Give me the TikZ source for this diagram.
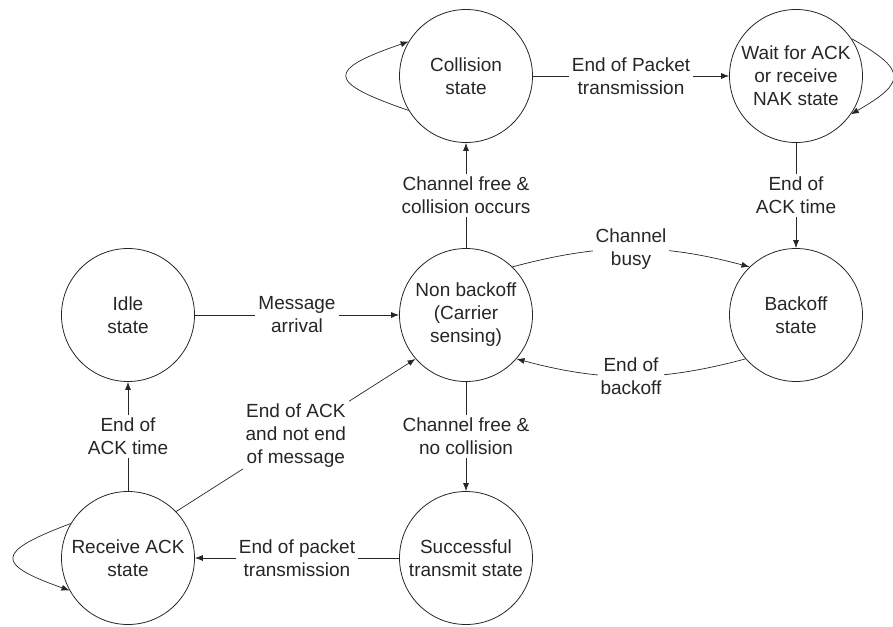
\documentclass[tikz,border=0pt]{standalone}
\usepackage{fontspec}
\setmainfont{Liberation Sans}
\usetikzlibrary{arrows.meta}
\begin{document}
\begin{tikzpicture}[x=1pt,y=1pt,
  every node/.style={text=black!85},
  state/.style={circle,draw=black!85,line width=0.8pt,minimum size=133pt,inner sep=0pt,align=center,font=\fontsize{19}{23}\selectfont},
  edge/.style={draw=black!85,line width=0.7pt,-{Latex[length=8pt,width=6pt]}},
  lbl/.style={fill=white,align=center,inner sep=3pt,font=\fontsize{19}{23}\selectfont}]
\useasboundingbox (0,0) rectangle (893,-626);
\node[state] (col)  at (466,-76)  {Collision\\state};
\node[state] (wait) at (796,-76)  {Wait for ACK\\or receive\\NAK state};
\node[state] (idle) at (128,-315) {Idle\\state};
\node[state] (nb)   at (466,-315) {Non backoff\\(Carrier\\sensing)};
\node[state] (bo)   at (796,-315) {Backoff\\state};
\node[state] (rack) at (128,-558) {Receive ACK\\state};
\node[state] (succ) at (466,-558) {Successful\\transmit state};
\draw[edge] (col) -- node[lbl]{End of Packet\\transmission} (wait);
\draw[edge] (nb) -- node[lbl]{Channel free \&\\collision occurs} (col);
\draw[edge] (wait) -- node[lbl]{End of\\ACK time} (bo);
\draw[edge] (idle) -- node[lbl]{Message\\arrival} (nb);
\draw[edge] (nb.46) to[bend left=15] node[lbl]{Channel\\busy} (bo.134);
\draw[edge] (bo.221) to[bend left=15] node[lbl]{End of\\backoff} (nb.319);
\draw[edge] (nb) -- node[lbl]{Channel free \&\\no collision} (succ);
\draw[edge] (succ) -- node[lbl]{End of packet\\transmission} (rack);
\draw[edge] (rack) -- node[lbl]{End of\\ACK time} (idle);
\draw[edge] (rack.44) -- node[lbl]{End of ACK\\and not end\\of message} (nb.221);
\draw[edge] (col.211) .. controls (326,-82) and (326,-70) .. (col.149);
\draw[edge] (wait.34) .. controls (907,-70) and (907,-82) .. (wait.325);
\draw[edge] (rack.149) .. controls (-5,-552) and (-5,-564) .. (rack.209);
\end{tikzpicture}
\end{document}
